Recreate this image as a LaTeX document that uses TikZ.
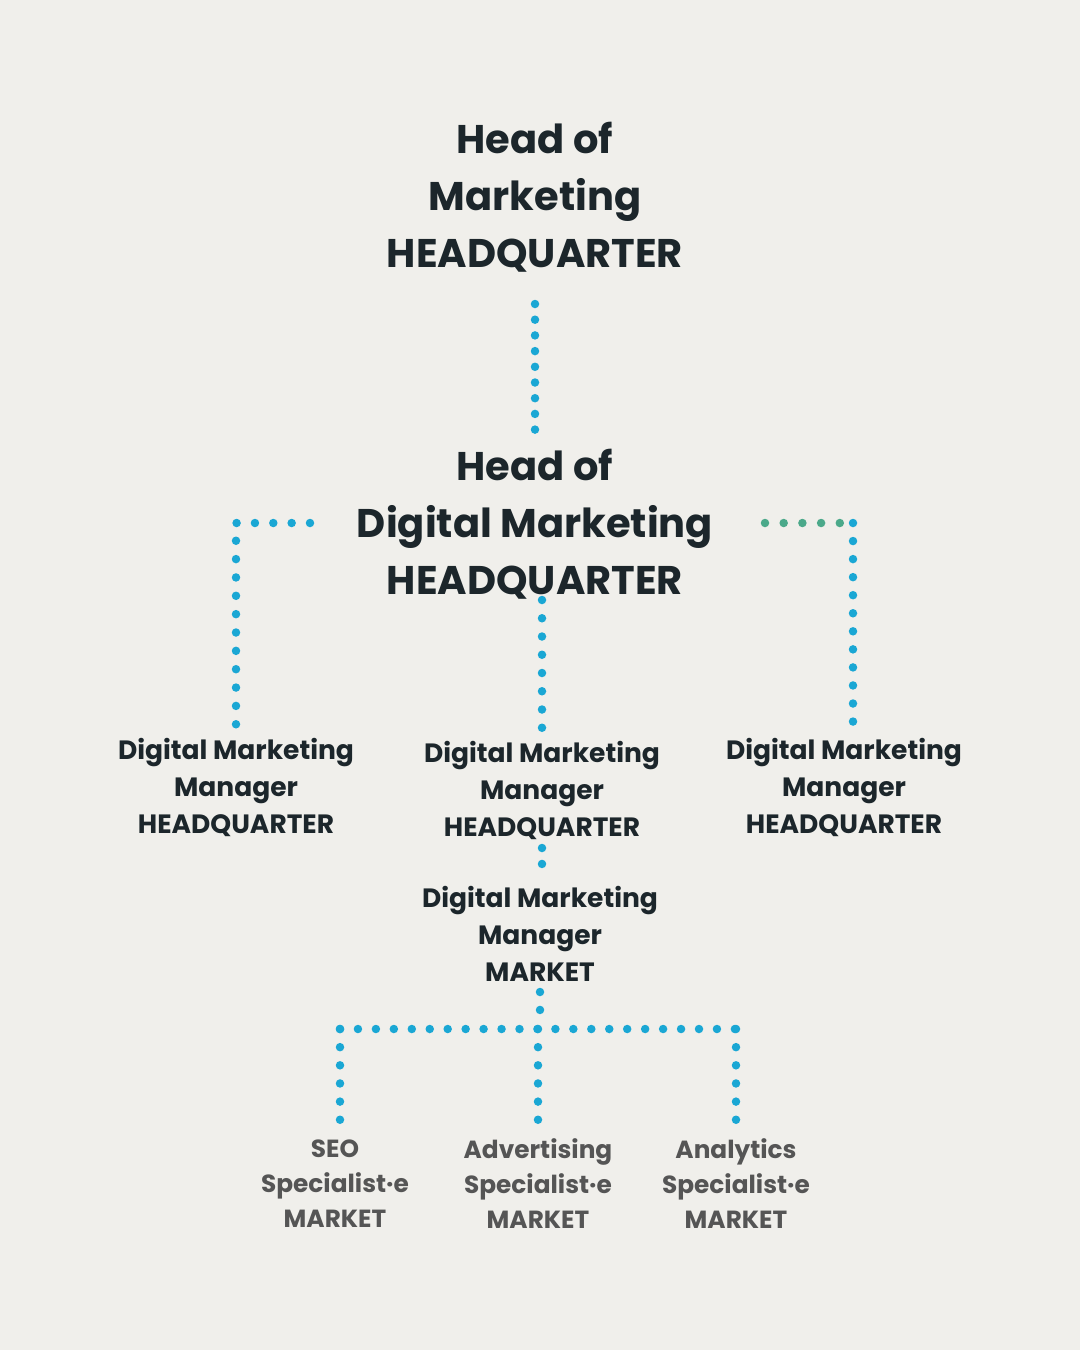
\documentclass[tikz,border=0pt]{standalone}
\usepackage{fontspec}
\setmainfont{Poppins}[BoldFont={Poppins Bold}]
\definecolor{bgc}{HTML}{F0EFEB}
\definecolor{ink}{HTML}{1C262B}
\definecolor{greyink}{HTML}{555555}
\definecolor{dotblue}{HTML}{1AA7D4}
\definecolor{dotgreen}{HTML}{4BA98A}
\tikzset{
  big/.style={align=center, inner sep=0pt, text=ink, font=\bfseries\fontsize{40}{57}\selectfont},
  mid/.style={align=center, inner sep=0pt, text=ink, font=\bfseries\fontsize{26.5}{37}\selectfont},
  small/.style={align=center, inner sep=0pt, text=greyink, font=\bfseries\fontsize{24.8}{35}\selectfont},
  dotline/.style={line width=8.5pt, line cap=round, dash pattern=on 0pt off #1},
}
\begin{document}
\begin{tikzpicture}[x=1pt,y=-1pt]
\fill[bgc] (0,0) rectangle (1080,1350);
\useasboundingbox (0,0) rectangle (1080,1350);

% nodes
\node[big] (top) at (535,197) {Head of\\Marketing\\HEADQUARTER};
\node[big] (hdm) at (535,524) {Head of\\Digital Marketing\\HEADQUARTER};
\node[mid] (dmL) at (236,787) {Digital Marketing\\Manager\\HEADQUARTER};
\node[mid] (dmC) at (542,790) {Digital Marketing\\Manager\\HEADQUARTER};
\node[mid] (dmR) at (844,787) {Digital Marketing\\Manager\\HEADQUARTER};
\node[mid] (dmM) at (540,934) {Digital Marketing\\Manager\\MARKET};
\node[small] (seo) at (335,1184) {SEO\\Specialist·e\\MARKET};
\node[small] (adv) at (538,1184) {Advertising\\Specialist·e\\MARKET};
\node[small] (ana) at (736,1184) {Analytics\\Specialist·e\\MARKET};

% connector end points
\coordinate (topOut) at (535,304);
\coordinate (hdmIn) at (535,430);
\coordinate (hdmL) at (310,523);
\coordinate (dmLIn) at (236,725);
\coordinate (hdmR) at (765,523);
\coordinate (hdmRg) at (840,523);
\coordinate (hdmRc) at (853,523);
\coordinate (dmRIn) at (853,722);
\coordinate (hdmOut) at (542,600);
\coordinate (dmCIn) at (542,728);
\coordinate (dmCOut) at (542,848);
\coordinate (dmMIn) at (542,864);
\coordinate (dmMOut) at (540,992);
\coordinate (bus) at (540,1010);
\coordinate (busL) at (340,1029);
\coordinate (busR) at (736,1029);
\coordinate (seoIn) at (340,1120);
\coordinate (advIn) at (538,1120);
\coordinate (anaIn) at (736,1120);

% connectors
\draw[dotblue, dotline=15.7pt] (topOut) -- (hdmIn);
\draw[dotblue, dotline=18.35pt] (hdmL) -| (dmLIn);
\draw[dotgreen, dotline=18.7pt] (hdmR) -- (hdmRg);
\draw[dotblue, dotline=18.05pt] (hdmRc) -- (dmRIn);
\draw[dotblue, dotline=18.25pt] (hdmOut) -- (dmCIn);
\draw[dotblue, dotline=15.95pt] (dmCOut) -- (dmMIn);
\draw[dotblue, dotline=17.95pt] (dmMOut) -- (bus);
\draw[dotblue, dotline=17.95pt] (busL) -- (busR);
\draw[dotblue, dotline=18.15pt] (busL) -- (seoIn);
\draw[dotblue, dotline=18.15pt] (advIn |- busL) -- (advIn);
\draw[dotblue, dotline=18.15pt] (busR) -- (anaIn);
\end{tikzpicture}
\end{document}
